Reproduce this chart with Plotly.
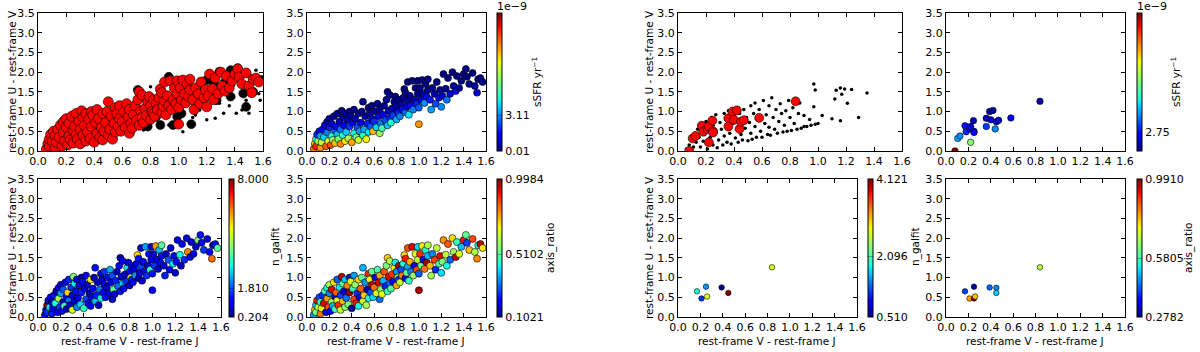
import numpy as np
import plotly.graph_objects as go

FONT = "DejaVu Sans"
W, H = 1200, 352

# ── Tick labels ───────────────────────────────────────────────────────────────
X_TICKS = [0.0, 0.2, 0.4, 0.6, 0.8, 1.0, 1.2, 1.4, 1.6]
Y_TICKS = [0.0, 0.5, 1.0, 1.5, 2.0, 2.5, 3.0, 3.5]

# ── Left sample: V-J, U-V, sSFR (1e-9 /yr), n_galfit, axis ratio ──────────────
left_vj = [
    0.06, 0.07, 0.08, 0.08, 0.09, 0.10, 0.11, 0.12, 0.12,
    0.13, 0.14, 0.15, 0.16, 0.17, 0.18, 0.18, 0.19, 0.20, 0.20,
    0.21, 0.22, 0.22, 0.23, 0.24, 0.25, 0.25, 0.26, 0.27, 0.27,
    0.28, 0.29, 0.30, 0.30, 0.31, 0.32, 0.32, 0.33, 0.34, 0.34,
    0.35, 0.36, 0.37, 0.38, 0.38, 0.39, 0.40, 0.41, 0.42, 0.42,
    0.43, 0.44, 0.45, 0.46, 0.46, 0.47, 0.48, 0.49, 0.50, 0.50,
    0.51, 0.52, 0.53, 0.54, 0.55, 0.55, 0.56, 0.57, 0.58, 0.58,
    0.59, 0.60, 0.61, 0.62, 0.63, 0.64, 0.65, 0.65, 0.66,
    0.67, 0.68, 0.69, 0.70, 0.71, 0.72, 0.72, 0.73, 0.74, 0.74,
    0.75, 0.76, 0.77, 0.78, 0.79, 0.80, 0.80, 0.81, 0.82, 0.82,
    0.83, 0.84, 0.85, 0.86, 0.87, 0.88, 0.88, 0.89, 0.90, 0.90,
    0.91, 0.92, 0.93, 0.94, 0.95, 0.96, 0.97, 0.98, 0.99, 0.99,
    1.00,
    1.00, 1.01, 1.02, 1.03, 1.04, 1.05, 1.06, 1.07, 1.08, 1.08,
    1.10, 1.11, 1.12, 1.14, 1.15, 1.16, 1.18, 1.19, 1.20,
    1.21, 1.22, 1.24, 1.25, 1.26, 1.28, 1.30, 1.31, 1.33, 1.34,
    1.36, 1.38, 1.40, 1.42, 1.43, 1.45, 1.48, 1.50, 1.52, 1.53, 1.55, 1.57,
]
left_uv = [
    0.05, 0.18, 0.12, 0.30, 0.42, 0.25, 0.50, 0.08, 0.38,
    0.22, 0.55, 0.35, 0.66, 0.12, 0.47, 0.74, 0.25, 0.60, 0.82,
    0.15, 0.38, 0.70, 0.28, 0.88, 0.52, 0.20, 0.62, 0.95, 0.42,
    0.30, 0.75, 0.55, 0.18, 1.02, 0.85, 0.40, 0.65, 0.95, 0.25,
    0.48, 0.80, 0.32, 0.62, 1.00, 0.90, 0.22, 0.72, 0.45, 1.05,
    0.82, 0.35, 0.60, 0.95, 0.28, 0.50, 0.72, 1.00, 0.40, 1.25,
    0.55, 0.88, 0.30, 0.70, 1.10, 0.48, 0.95, 0.62, 0.82, 1.15,
    0.50, 0.75, 1.00, 0.60, 1.20, 0.88, 0.45, 1.05, 0.70,
    0.58, 0.92, 1.15, 0.78, 1.30, 1.50, 0.65, 1.02, 0.85, 1.42,
    0.72, 1.08, 0.90, 1.25, 1.38, 0.80, 1.15, 1.00, 1.30, 0.95,
    0.88, 1.20, 1.05, 1.35, 1.57, 0.98, 1.48, 1.12, 1.28, 1.75,
    0.92, 1.40, 1.15, 1.78, 1.05, 1.30, 1.60, 1.20, 1.78, 1.45,
    0.68,
    1.10, 1.60, 1.30, 1.80, 1.45, 1.22, 1.70, 1.38, 1.82, 1.55,
    1.30, 1.05, 1.60, 1.45, 1.20, 1.75, 1.35, 1.55, 1.12,
    1.40, 1.95, 1.58, 1.30, 1.85, 1.45, 2.00, 1.65, 1.52, 1.90,
    1.60, 1.78, 1.95, 2.08, 1.88, 1.70, 1.98, 1.65, 1.48, 1.82, 1.85, 1.75,
]
left_ssfr = [
    9.5, 8.0, 10.5, 4.5, 2.0, 6.5, 1.2, 9.0, 3.5,
    7.0, 1.5, 4.0, 0.9, 9.8, 3.0, 0.5, 7.5, 1.8, 0.3,
    10.0, 4.8, 0.8, 6.2, 0.2, 2.6, 8.5, 1.6, 0.1, 3.8,
    6.0, 0.7, 2.8, 9.2, 0.1, 0.4, 4.8, 1.5, 0.2, 8.0,
    3.9, 0.6, 6.8, 2.1, 0.1, 0.3, 8.8, 1.2, 4.4, 0.1,
    0.5, 5.8, 2.4, 0.2, 7.2, 3.3, 1.0, 0.1, 5.0, 0.05,
    3.5, 0.4, 7.8, 1.8, 0.1, 4.2, 0.3, 2.5, 0.8, 0.1,
    8.5, 2.0, 0.3, 4.0, 0.1, 1.1, 6.5, 0.2, 2.9,
    5.2, 1.2, 0.2, 2.4, 0.1, 0.05, 3.8, 0.6, 1.8, 0.1,
    4.8, 0.5, 2.2, 0.2, 0.1, 3.6, 0.4, 1.4, 0.1, 2.0,
    3.0, 0.4, 1.6, 0.1, 0.05, 2.8, 0.1, 1.0, 0.3, 0.02,
    4.2, 0.2, 1.5, 0.02, 3.0, 0.5, 0.05, 1.9, 0.02, 0.2,
    9.0,
    2.6, 0.1, 1.0, 0.02, 0.3, 3.2, 0.05, 1.4, 0.02, 0.2,
    1.8, 3.4, 0.1, 0.4, 2.4, 0.03, 1.3, 0.2, 3.1,
    0.6, 0.01, 0.2, 2.8, 0.02, 0.9, 0.01, 0.3, 1.5, 0.02,
    0.3, 0.05, 0.02, 0.01, 0.02, 0.2, 0.01, 0.3, 0.8, 0.05, 0.03, 0.1,
]
left_n = [
    1.2, 0.9, 1.5, 8.0, 0.7, 2.9, 1.1, 1.4, 0.6,
    0.8, 1.3, 3.2, 0.5, 1.0, 4.5, 0.9, 1.6, 2.4, 0.7,
    1.1, 0.6, 1.8, 3.6, 0.9, 1.2, 0.5, 5.5, 1.4, 2.0,
    0.7, 1.5, 0.9, 5.0, 4.2, 3.0, 0.6, 1.3, 0.8, 2.2,
    1.0, 0.8, 2.8, 1.4, 0.6, 1.2, 3.4, 0.9, 1.7, 1.1,
    0.7, 1.2, 0.5, 5.3, 1.2, 0.9, 1.1, 0.6, 2.6, 1.3,
    1.4, 0.8, 0.6, 2.1, 1.0, 3.1, 0.7, 1.2, 0.9, 1.6,
    1.1, 0.6, 1.3, 0.9, 2.5, 1.0, 0.7, 1.8, 3.9,
    0.8, 1.4, 0.6, 2.0, 1.1, 0.5, 1.3, 0.9, 2.7, 1.0,
    1.0, 0.7, 1.5, 3.0, 0.9, 0.6, 1.2, 4.8, 0.8, 1.4,
    1.1, 0.8, 2.3, 1.0, 5.5, 0.6, 1.3, 0.9, 1.7, 0.7,
    0.7, 1.2, 0.9, 2.4, 1.5, 0.6, 1.1, 3.3, 0.8, 1.0,
    1.0,
    1.3, 0.8, 1.6, 6.0, 1.0, 0.7, 2.6, 0.9, 3.8, 1.2,
    0.9, 1.4, 0.6, 1.8, 1.1, 0.8, 2.9, 1.0, 0.7,
    1.2, 0.9, 3.1, 0.6, 1.0, 1.5, 0.8, 6.2, 1.1, 0.7,
    1.0, 0.7, 4.2, 1.3, 0.9, 1.6, 0.8, 1.1, 6.4, 0.6, 1.0, 3.8,
]
left_q = [
    0.35, 0.72, 0.55, 0.40, 0.90, 0.62, 0.28, 0.81, 0.47,
    0.66, 0.25, 0.93, 0.51, 0.18, 0.77, 0.44, 0.85, 0.33, 0.60,
    0.21, 0.58, 0.92, 0.37, 0.70, 0.14, 0.49, 0.83, 0.30, 0.67,
    0.88, 0.42, 0.27, 0.63, 0.95, 0.52, 0.74, 0.16, 0.39, 0.57,
    0.31, 0.79, 0.55, 0.98, 0.23, 0.66, 0.12, 0.47, 0.86, 0.35,
    0.58, 0.90, 0.26, 0.71, 0.44, 0.19, 0.83, 0.52, 0.64, 0.37,
    0.73, 0.34, 0.60, 0.15, 0.89, 0.46, 0.68, 0.28, 0.95, 0.53,
    0.40, 0.81, 0.22, 0.65, 0.50, 0.93, 0.31, 0.76, 0.57,
    0.66, 0.37, 0.84, 0.24, 0.55, 0.72, 0.48, 0.91, 0.30, 0.61,
    0.52, 0.87, 0.20, 0.69, 0.43, 0.76, 0.34, 0.58, 0.97, 0.26,
    0.63, 0.28, 0.80, 0.45, 0.71, 0.17, 0.90, 0.52, 0.36, 0.84,
    0.47, 0.75, 0.33, 0.92, 0.58, 0.21, 0.66, 0.85, 0.40, 0.62,
    0.97,
    0.30, 0.88, 0.54, 0.69, 0.22, 0.80, 0.45, 0.97, 0.61, 0.38,
    0.74, 0.59, 0.33, 0.86, 0.25, 0.63, 0.50, 0.92, 0.41,
    0.55, 0.78, 0.62, 0.44, 0.83, 0.30, 0.71, 0.59, 0.95, 0.48,
    0.66, 0.38, 0.90, 0.52, 0.27, 0.74, 0.85, 0.60, 0.79, 0.43, 0.95, 0.70,
]

# parent sample behind the red points (top-left panel)
parent_big_vj = [0.71, 0.78, 0.87, 0.93, 0.96, 0.99, 1.09, 1.20, 1.25, 1.29, 1.37, 1.42,
                 1.27, 1.37, 1.46, 1.53, 1.59, 1.48, 1.02, 1.06, 0.84, 0.91, 1.14, 1.33]
parent_big_uv = [1.55, 0.62, 0.66, 1.88, 0.66, 0.87, 0.68, 1.80, 1.72, 2.01, 2.05, 2.10,
                 1.29, 1.38, 1.46, 1.50, 1.80, 1.12, 0.95, 1.29, 0.87, 1.04, 1.62, 1.75]
parent_small_vj = [0.80, 0.82, 0.75, 1.26, 1.15, 1.41, 1.45, 1.50, 1.55, 1.58, 1.39, 1.29,
                   1.22, 1.48, 0.93, 1.03, 1.12, 1.20, 1.32, 0.77, 0.86, 1.36, 1.57, 1.10]
parent_small_uv = [1.63, 1.29, 0.53, 0.83, 1.04, 0.96, 1.04, 0.96, 2.05, 1.29, 1.67, 1.21,
                   1.12, 1.29, 0.66, 0.49, 0.91, 0.79, 0.96, 0.75, 0.72, 1.15, 1.45, 0.85]

# ── Right: parent field (black dots) ──────────────────────────────────────────
field_vj = [
    0.06, 0.08, 0.09, 0.11, 0.12, 0.13, 0.14, 0.15,
    0.16, 0.17, 0.18, 0.19, 0.20, 0.21, 0.22, 0.23, 0.24, 0.25, 0.25,
    0.26, 0.27, 0.28, 0.29, 0.30, 0.31, 0.32, 0.33, 0.33, 0.34, 0.35, 0.35,
    0.36, 0.37, 0.38, 0.39, 0.40, 0.41, 0.42, 0.43, 0.43, 0.44, 0.45, 0.45,
    0.46, 0.47, 0.48, 0.49, 0.50, 0.51, 0.52, 0.52, 0.53, 0.54, 0.55, 0.55,
    0.56, 0.57, 0.58, 0.59, 0.60, 0.61, 0.62, 0.63, 0.64, 0.65, 0.65,
    0.66, 0.67, 0.68, 0.69, 0.70, 0.71, 0.72, 0.73, 0.74, 0.75,
    0.76, 0.77, 0.78, 0.79, 0.80, 0.81, 0.82, 0.83, 0.85, 0.86, 0.87, 0.88, 0.90, 0.90,
    0.92, 0.94, 0.95, 0.97, 0.97, 0.98, 0.98, 1.00, 1.03,
    1.10, 1.12, 1.13, 1.16, 1.16, 1.17, 1.19, 1.21, 1.24, 1.29, 1.35,
]
field_uv = [
    0.05, 0.15, 0.30, 0.10, 0.45, 0.22, 0.55, 0.35,
    0.10, 0.68, 0.25, 0.42, 0.75, 0.05, 0.55, 0.35, 0.85, 0.15, 0.65,
    0.45, 0.92, 0.08, 0.28, 0.72, 0.55, 0.15, 0.95, 0.38, 0.82, 0.22, 0.62,
    1.02, 0.45, 0.18, 0.70, 0.88, 0.33, 0.55, 1.10, 0.22, 0.95, 0.42, 0.68,
    0.28, 1.05, 0.58, 0.85, 0.26, 0.72, 1.15, 0.45, 0.30, 0.95, 0.62, 1.22,
    0.35, 0.80, 1.05, 0.50, 0.35, 1.28, 0.70, 0.92, 0.42, 1.15, 0.60,
    0.40, 1.35, 0.85, 0.55, 1.05, 0.45, 0.75, 1.20, 0.95, 0.48,
    0.65, 1.02, 0.50, 1.28, 0.85, 0.52, 1.10, 0.70, 0.55, 0.95, 1.22, 0.58, 0.90, 0.62,
    0.62, 0.80, 0.65, 1.70, 1.12, 1.55, 0.68, 0.70, 0.90,
    0.82, 1.32, 1.54, 0.77, 1.60, 1.44, 1.57, 1.21, 1.56, 0.85, 1.47,
]

# ── Right: selected sample, sSFR in 1e-9 /yr ──────────────────────────────────
sel_vj = [0.08, 0.105, 0.125, 0.17, 0.18, 0.21, 0.22, 0.22, 0.245, 0.25, 0.25,
          0.36, 0.36, 0.39, 0.40, 0.42, 0.44, 0.45, 0.47, 0.58, 0.84]
sel_uv = [0.00, 0.32, 0.38, 0.64, 0.49, 0.56, 0.62, 0.22, 0.77, 0.50, 0.47,
          0.83, 0.62, 1.00, 0.79, 1.03, 0.56, 0.74, 0.78, 0.84, 1.26]
sel_ssfr = [18.4, 5.5, 5.0, 2.8, 3.2, 2.0, 1.5, 9.5, 1.0, 3.0, 2.5,
            1.2, 3.5, 0.8, 1.5, 0.6, 5.0, 2.0, 1.4, 2.5, 0.8]

# ── Right: morphology sub-sample (None = no galfit index) ─────────────────────
morph_vj = [0.17, 0.21, 0.25, 0.25, 0.26, 0.39, 0.45, 0.45, 0.84]
morph_uv = [0.65, 0.47, 0.77, 0.47, 0.52, 0.75, 0.74, 0.61, 1.26]
morph_n = [1.95, 1.12, 1.49, None, 2.75, 0.51, None, 4.121, 2.75]
morph_q = [0.41, 0.81, 0.30, 0.97, 0.78, 0.44, 0.46, 0.51, 0.69]

assert len(left_vj) == len(left_uv) == len(left_ssfr) == len(left_n) == len(left_q)
assert len(field_vj) == len(field_uv)
assert len(sel_vj) == len(sel_uv) == len(sel_ssfr)


def jet_scale(n=65):
    """Matplotlib's classic jet, sampled for plotly."""
    red = ([0, 0.35, 0.66, 0.89, 1], [0, 0, 1, 1, 0.5])
    green = ([0, 0.125, 0.375, 0.64, 0.91, 1], [0, 0, 1, 1, 0, 0])
    blue = ([0, 0.11, 0.34, 0.65, 1], [0.5, 1, 1, 0, 0])
    out = []
    for t in np.linspace(0, 1, n):
        r, g, b = (np.interp(t, *c) for c in (red, green, blue))
        out.append([float(t), f"rgb({round(r*255)},{round(g*255)},{round(b*255)})"])
    return out


JET = jet_scale()

# panel boxes in pixels: left, right, top, bottom
PANELS = {
    1: (38, 263, 13, 151),
    2: (307, 486, 13, 151),
    3: (38, 221, 179, 317),
    4: (307, 486, 179, 317),
    5: (678, 902, 13, 151),
    6: (946, 1125, 13, 151),
    7: (678, 857, 179, 317),
    8: (946, 1125, 179, 317),
}

fig = go.Figure()


def sfx(i):
    return "" if i == 1 else str(i)


def add(panel, x, y, **marker):
    marker.setdefault("line", dict(color="black", width=0.6))
    fig.add_trace(go.Scatter(
        x=x, y=y, mode="markers", marker=marker,
        xaxis="x" + sfx(panel), yaxis="y" + sfx(panel),
        showlegend=False, hoverinfo="skip",
    ))


def cbar(panel, left, vals, texts):
    top, bottom = PANELS[panel][2], PANELS[panel][3]
    return dict(
        x=left / W, xanchor="left", y=1 - (top + bottom) / 2 / H, yanchor="middle",
        len=(bottom - top) / H, lenmode="fraction", thickness=5,
        xpad=0, ypad=0, outlinewidth=1, outlinecolor="black",
        tickmode="array", tickvals=vals, ticktext=texts,
        ticks="inside", ticklen=5, tickwidth=1, tickcolor="rgba(0,0,0,0.3)",
        tickfont=dict(family=FONT, size=11, color="black"),
    )


def colored(panel, x, y, c, cmin, cmax, size, bar):
    add(panel, x, y, size=size, color=c, colorscale=JET, cmin=cmin, cmax=cmax,
        showscale=True, colorbar=bar)


# top-left: parent (black) + sample (red)
add(1, parent_small_vj, parent_small_uv, size=3.5, color="black", line=dict(width=0))
add(1, parent_big_vj, parent_big_uv, size=9, color="black")
add(1, left_vj, left_uv, size=10, color="#ff0000")

colored(2, left_vj, left_uv, left_ssfr, 0.0, 12.0, 7,
        cbar(2, 497, [0.01, 3.11], ["0.01", "3.11"]))
colored(3, left_vj, left_uv, left_n, 0.204, 8.0, 7,
        cbar(3, 229, [0.204, 1.81, 8.0], ["0.204", "1.810", "8.000"]))
colored(4, left_vj, left_uv, left_q, 0.1021, 0.9984, 7,
        cbar(4, 497, [0.1021, 0.5102, 0.9984], ["0.1021", "0.5102", "0.9984"]))

add(5, field_vj, field_uv, size=3.5, color="black", line=dict(width=0))
add(5, sel_vj, sel_uv, size=9, color="#ff0000")

colored(6, sel_vj, sel_uv, sel_ssfr, 0.2, 18.4, 6.5,
        cbar(6, 1137, [2.75], ["2.75"]))

has_n = [i for i, v in enumerate(morph_n) if v is not None]
colored(7, [morph_vj[i] for i in has_n], [morph_uv[i] for i in has_n],
        [morph_n[i] for i in has_n], 0.510, 4.121, 5.5,
        cbar(7, 868, [0.510, 2.096, 4.121], ["0.510", "2.096", "4.121"]))
colored(8, morph_vj, morph_uv, morph_q, 0.2782, 0.9910, 5.5,
        cbar(8, 1137, [0.2782, 0.5805, 0.9910], ["0.2782", "0.5805", "0.9910"]))

AX = dict(
    showline=True, linecolor="black", linewidth=1, mirror="ticks",
    ticks="inside", ticklen=4, tickwidth=1, tickcolor="black",
    showgrid=False, zeroline=False, automargin=False, fixedrange=True,
    tickfont=dict(family=FONT, size=11, color="black"),
)
axes = {}
for i, (x0, x1, y0, y1) in PANELS.items():
    axes["xaxis" + sfx(i)] = dict(
        domain=[x0 / W, x1 / W], anchor="y" + sfx(i), range=[0, 1.6],
        tickmode="array", tickvals=X_TICKS, ticktext=[f"{v:.1f}" for v in X_TICKS], **AX)
    axes["yaxis" + sfx(i)] = dict(
        domain=[1 - y1 / H, 1 - y0 / H], anchor="x" + sfx(i), range=[0, 3.5],
        tickmode="array", tickvals=Y_TICKS, ticktext=[f"{v:.1f}" for v in Y_TICKS], **AX)


def note(text, px, py, angle=0, size=10.5):
    return dict(text=text, x=px / W, y=1 - py / H, xref="paper", yref="paper",
                xanchor="center", yanchor="middle", showarrow=False, textangle=angle,
                font=dict(family=FONT, size=size, color="black"))


UV = "rest-frame U - rest-frame V"
VJ = "rest-frame V - rest-frame J"
SSFR = "sSFR yr<sup>−1</sup>"
annotations = [
    note(UV, 12, 82, -90), note(UV, 12, 248, -90),
    note(UV, 649, 82, -90), note(UV, 649, 248, -90),
    note(VJ, 130, 341), note(VJ, 396, 341), note(VJ, 767, 341), note(VJ, 1035, 341),
    note(SSFR, 537, 82, -90), note(SSFR, 1176, 82, -90),
    note("n_galfit", 275, 247, -90), note("n_galfit", 915, 247, -90),
    note("axis_ratio", 550, 248, -90), note("axis_ratio", 1188, 248, -90),
    note("1e−9", 512, 6, 0, 11), note("1e−9", 1152, 6, 0, 11),
]

fig.update_layout(
    width=W, height=H,
    margin=dict(l=0, r=0, t=0, b=0, autoexpand=False),
    paper_bgcolor="white", plot_bgcolor="white",
    font=dict(family=FONT, size=11, color="black"),
    annotations=annotations,
    **axes,
)

# the page body has a default 8px margin; drop it so the figure fills the window
fig.write_html(
    "out.html",
    config={"displayModeBar": False},
    post_script="document.body.style.margin='0';document.body.style.overflow='hidden';",
)
